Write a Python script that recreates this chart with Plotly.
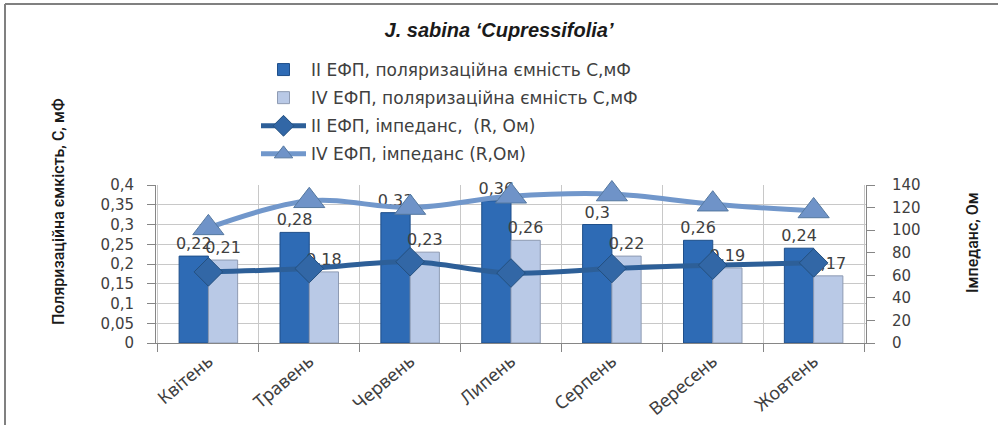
import plotly.graph_objects as go

months = ["Квітень", "Травень", "Червень", "Липень", "Серпень", "Вересень", "Жовтень"]
cap_II = [0.22, 0.28, 0.33, 0.36, 0.30, 0.26, 0.24]
cap_IV = [0.21, 0.18, 0.23, 0.26, 0.22, 0.19, 0.17]
imp_II = [63, 66, 72, 62, 66, 69, 71]
imp_IV = [102, 126, 120, 130, 132, 123, 117]

name_cap_II = "II ЕФП, поляризаційна ємність С,мФ"
name_cap_IV = "IV ЕФП, поляризаційна ємність С,мФ"
name_imp_II = "II ЕФП, імпеданс,  (R, Ом)"
name_imp_IV = "IV ЕФП, імпеданс (R,Ом)"

def lbl(v):
    return [("%g" % x).replace(".", ",") for x in v]

W, H = 998, 425
L, R, T, B = 156, 866, 185, 343
pw, ph = R - L, B - T
def px(x): return (x - L) / pw
def py(y): return (B - y) / ph

txt_font = dict(family="DejaVu Sans, Verdana, sans-serif", size=16, color="#404040")

fig = go.Figure()
fig.add_trace(go.Bar(
    x=months, y=cap_II, name=name_cap_II, legendgroup="a",
    marker=dict(color="#2E6BB5", line=dict(color="#1F4F8A", width=1)),
    text=lbl(cap_II), textposition="outside", constraintext="none", cliponaxis=False,
    textfont=txt_font,
))
fig.add_trace(go.Bar(
    x=months, y=cap_IV, name=name_cap_IV, legendgroup="b",
    marker=dict(color="#B9C9E6", line=dict(color="#8E9BB3", width=1)),
    text=lbl(cap_IV), textposition="outside", constraintext="none", cliponaxis=False,
    textfont=txt_font,
))
fig.add_trace(go.Scatter(
    x=months, y=imp_II, name=name_imp_II, legendgroup="c", yaxis="y2",
    mode="lines+markers", line=dict(color="#2D5F98", width=5, shape="spline"),
    marker=dict(symbol="diamond", size=22, color="#3267A6", line=dict(color="#24507F", width=1)),
    cliponaxis=False,
))
fig.add_trace(go.Scatter(
    x=months, y=imp_IV, name=name_imp_IV, legendgroup="d", yaxis="y2",
    mode="lines+markers", line=dict(color="#7197CB", width=5, shape="spline"),
    marker=dict(symbol="triangle-up", size=27, color="#6F93C8", line=dict(color="#55789F", width=1)),
    cliponaxis=False,
))

axis_font = dict(family="DejaVu Sans, Verdana, sans-serif", size=15, color="#404040")
title_font = dict(family="Roboto, Liberation Sans Narrow, sans-serif", size=16, color="#1a1a1a", weight=500)

fig.update_layout(
    width=W, height=H,
    margin=dict(l=L, r=W - R, t=T, b=H - B, autoexpand=False),
    paper_bgcolor="white", plot_bgcolor="white",
    separators=", ",
    barmode="group", bargap=0.42, bargroupgap=0,
    title=dict(text="<b><i>J. sabina ‘Cupressifolia’</i></b>", x=0.5, xanchor="center",
               y=1 - 30 / H, yanchor="middle",
               font=dict(family="Liberation Sans, Arial, sans-serif", size=20, color="#1a1a1a")),
    showlegend=True,
    legend=dict(x=px(256), y=py(52), xanchor="left", yanchor="top",
                font=dict(family="DejaVu Sans, Verdana, sans-serif", size=17, color="#404040"),
                tracegroupgap=3, itemwidth=45, bgcolor="rgba(0,0,0,0)"),
    xaxis=dict(type="category", tickson="boundaries", showgrid=True, gridcolor="#C8C8C8",
               ticks="outside", ticklen=8, tickcolor="#868686",
               showline=True, linecolor="#868686", tickangle=-40,
               tickfont=dict(family="Noto Sans, Open Sans, sans-serif", size=18, color="#404040")),
    yaxis=dict(range=[0, 0.4], dtick=0.05, tickformat=",.2~f", showgrid=True, gridcolor="#C8C8C8",
               ticks="outside", ticklen=8, tickcolor="#868686",
               showline=True, linecolor="#868686", zeroline=False,
               ticklabelstandoff=10, tickfont=axis_font),
    yaxis2=dict(range=[0, 140], dtick=20, overlaying="y", side="right", showgrid=False,
                ticks="outside", ticklen=8, tickcolor="#868686",
                showline=True, linecolor="#868686", zeroline=False,
                ticklabelstandoff=14, tickfont=axis_font),
    annotations=[
        dict(text="Поляризаційна ємкість, С, мФ", textangle=-90, xref="paper", yref="paper",
             x=px(58), y=py(211), xanchor="center", yanchor="middle", showarrow=False,
             font=title_font),
        dict(text="Імпеданс, Ом", textangle=-90, xref="paper", yref="paper",
             x=px(972), y=py(243), xanchor="center", yanchor="middle", showarrow=False,
             font=title_font),
    ],
    shapes=[
        dict(type="line", xref="paper", yref="paper", x0=px(5), x1=px(998), y0=py(4), y1=py(4),
             line=dict(color="#808080", width=2)),
        dict(type="line", xref="paper", yref="paper", x0=px(5), x1=px(5), y0=py(4), y1=py(430),
             line=dict(color="#808080", width=2)),
    ],
)

fig.write_html("out.html", config={"displayModeBar": False},
               post_script="document.body.style.margin='0';")
